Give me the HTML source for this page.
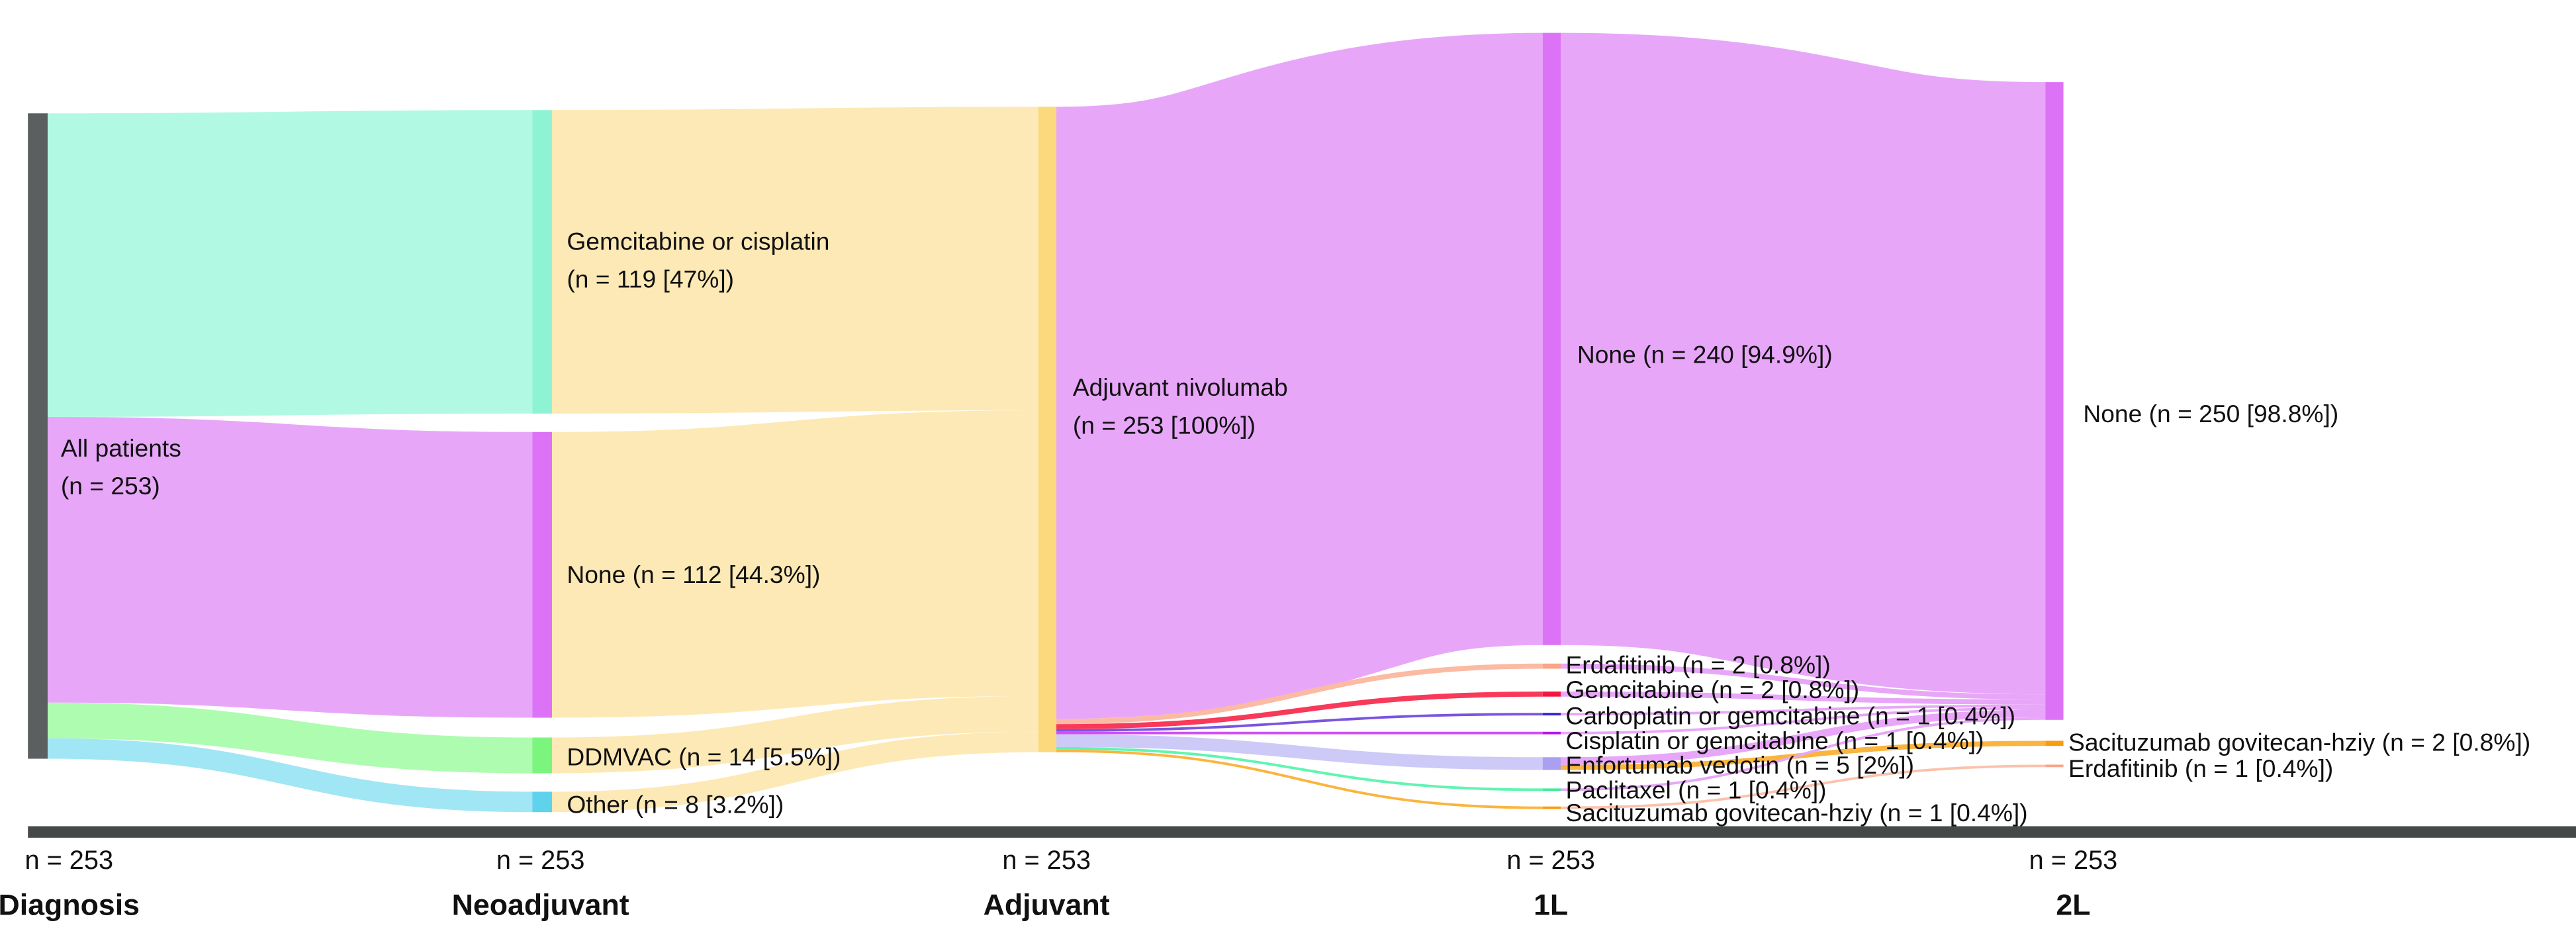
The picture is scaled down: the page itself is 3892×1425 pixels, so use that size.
<!DOCTYPE html>
<html><head><meta charset="utf-8"><style>
html,body{margin:0;padding:0;background:#fff;}
svg{display:block;}
text{font-family:"Liberation Sans Narrow","Liberation Sans",sans-serif;fill:#111;}
</style></head><body>
<svg id="chart" width="3892" height="1425" viewBox="0 0 1568 574.1" xmlns="http://www.w3.org/2000/svg">
<g id="links"></g>
<g id="nodes"></g>
<g id="labels"></g>
<rect x="17" y="503" width="1551" height="7" fill="#464a47"/>
<g id="stages"></g>
</svg>
<script>
// ---- data ----
const stageNames = ["Diagnosis","Neoadjuvant","Adjuvant","1L","2L"];
const stageTotals = [253,253,253,253,253];
const nodeNames = ["All patients","Gemcitabine or cisplatin","None","DDMVAC","Other","Adjuvant nivolumab",
 "None","Erdafitinib","Gemcitabine","Carboplatin or gemcitabine","Cisplatin or gemcitabine","Enfortumab vedotin","Paclitaxel","Sacituzumab govitecan-hziy",
 "None","Sacituzumab govitecan-hziy","Erdafitinib"];
const nodeStage = [0,1,1,1,1,2,3,3,3,3,3,3,3,3,4,4,4];
const nodeValues = [253,119,112,14,8,253,240,2,2,1,1,5,1,1,250,2,1];
const nodeLabels = ["","(n = 119 [47%])","None (n = 112 [44.3%])","DDMVAC (n = 14 [5.5%])","Other (n = 8 [3.2%])","(n = 253 [100%])",
 "None (n = 240 [94.9%])","Erdafitinib (n = 2 [0.8%])","Gemcitabine (n = 2 [0.8%])","Carboplatin or gemcitabine (n = 1 [0.4%])","Cisplatin or gemcitabine (n = 1 [0.4%])","Enfortumab vedotin (n = 5 [2%])","Paclitaxel (n = 1 [0.4%])","Sacituzumab govitecan-hziy (n = 1 [0.4%])",
 "None (n = 250 [98.8%])","Sacituzumab govitecan-hziy (n = 2 [0.8%])","Erdafitinib (n = 1 [0.4%])"];
const linkSource = [0,0,0,0, 1,2,3,4, 5,5,5,5,5,5,5,5, 6,7,8,9,10,11,11,12,13];
const linkTarget = [1,2,3,4, 5,5,5,5, 6,7,8,9,10,11,12,13, 14,14,14,14,14,14,15,14,16];
const linkValues = [119,112,14,8, 119,112,14,8, 240,2,2,1,1,5,1,1, 240,2,2,1,1,3,2,1,1];

// ---- layout (not data) ----
const K = 1.553;
const stageX = [17,324,632,939,1245];
const nodeW = [12,12,11,11,11];
const nodeTop = [69,67,263,449,482,65,20,404,421,434,445.5,461,480,491,50,451,465.5];
const nodeColor = ["#5b5f5f","#8ef3d3","#dc73f6","#7cf57f","#5fd3ec","#fcd97c","#dc73f6","#f9a58a","#f5153e","#3b1fd0","#b316ef","#ab9ff2","#40ec9a","#f89c10","#dc73f6","#f89c10","#f9a58a"];
const linkColorByTarget = {1:"#b1f9e3",2:"#e8a6f9",3:"#adfcaf",4:"#a1e6f4",5:"#fde9b5",6:"#e8a6f9",7:"#fbbaa3",8:"#f8395a",9:"#7a55e0",10:"#cf50f5",11:"#cdcaf8",12:"#5ef5b0",13:"#fbb43e",14:"#e8a6f9",15:"#fbb43e",16:"#fbc2ad"};
const NS="http://www.w3.org/2000/svg";
const gL=document.getElementById('links'),gN=document.getElementById('nodes'),gT=document.getElementById('labels'),gS=document.getElementById('stages');
function h(v){return v*K;}
const outOff=nodeValues.map(()=>0), inOff=nodeValues.map(()=>0);
for(let i=0;i<linkValues.length;i++){
  const s=linkSource[i],t=linkTarget[i],w=h(linkValues[i]);
  const x0=stageX[nodeStage[s]]+nodeW[nodeStage[s]], x1=stageX[nodeStage[t]];
  const y0=nodeTop[s]+outOff[s]+w/2, y1=nodeTop[t]+inOff[t]+w/2;
  outOff[s]+=w; inOff[t]+=w;
  const xm=(x0+x1)/2;
  const p=document.createElementNS(NS,'path');
  p.setAttribute('d',`M${x0},${y0} C${xm},${y0} ${xm},${y1} ${x1},${y1}`);
  p.setAttribute('fill','none');
  p.setAttribute('stroke',linkColorByTarget[t]);
  p.setAttribute('stroke-width',Math.max(w,1.2));
  
  
  gL.appendChild(p);
}
for(let n=0;n<nodeValues.length;n++){
  const st=nodeStage[n];
  const r=document.createElementNS(NS,'rect');
  r.setAttribute('x',stageX[st]);r.setAttribute('y',nodeTop[n]);
  r.setAttribute('width',nodeW[st]);r.setAttribute('height',Math.max(h(nodeValues[n]),1.5));
  r.setAttribute('fill',nodeColor[n]);
  
  
  gN.appendChild(r);
}
function txt(x,y,s,size,weight,anchor,name){
  const t=document.createElementNS(NS,'text');
  t.setAttribute('x',x);t.setAttribute('y',y);t.setAttribute('font-size',size);
  if(weight)t.setAttribute('font-weight',weight);
  if(anchor)t.setAttribute('text-anchor',anchor);
  t.textContent=s;
  
  
  return t;
}
// label positions (layout)
const labelX=[37,345,345,345,345,653,960,953,953,953,953,953,953,953,1268,1259,1259];
const labelY=[296,170,355,466,495,264,221,410,425,441,456,471,486,500,257,457,473];
for(let n=0;n<nodeValues.length;n++){
  gT.appendChild(txt(labelX[n],labelY[n],nodeLabels[n],15,null,null,'node-label'));
}
gT.appendChild(txt(37,278,"All patients",15,null,null,'node-label'));
gT.appendChild(txt(37,301,"(n = 253)",15,null,null,'node-label'));
gT.lastChild.setAttribute('y',301); gT.children[0].setAttribute('y',-100);
gT.appendChild(txt(345,152,"Gemcitabine or cisplatin",15,null,null,'node-label'));
gT.children[1].setAttribute('y',175);
gT.appendChild(txt(653,241,"Adjuvant nivolumab",15,null,null,'node-label'));
const stageCx=[42,329,637,944,1262];
for(let i=0;i<stageNames.length;i++){
  gS.appendChild(txt(stageCx[i],529,"n = "+stageTotals[i],16,null,'middle','stage-count'));
  gS.appendChild(txt(stageCx[i],557,stageNames[i],18,'bold','middle','stage-name'));
}
</script>
</body></html>
